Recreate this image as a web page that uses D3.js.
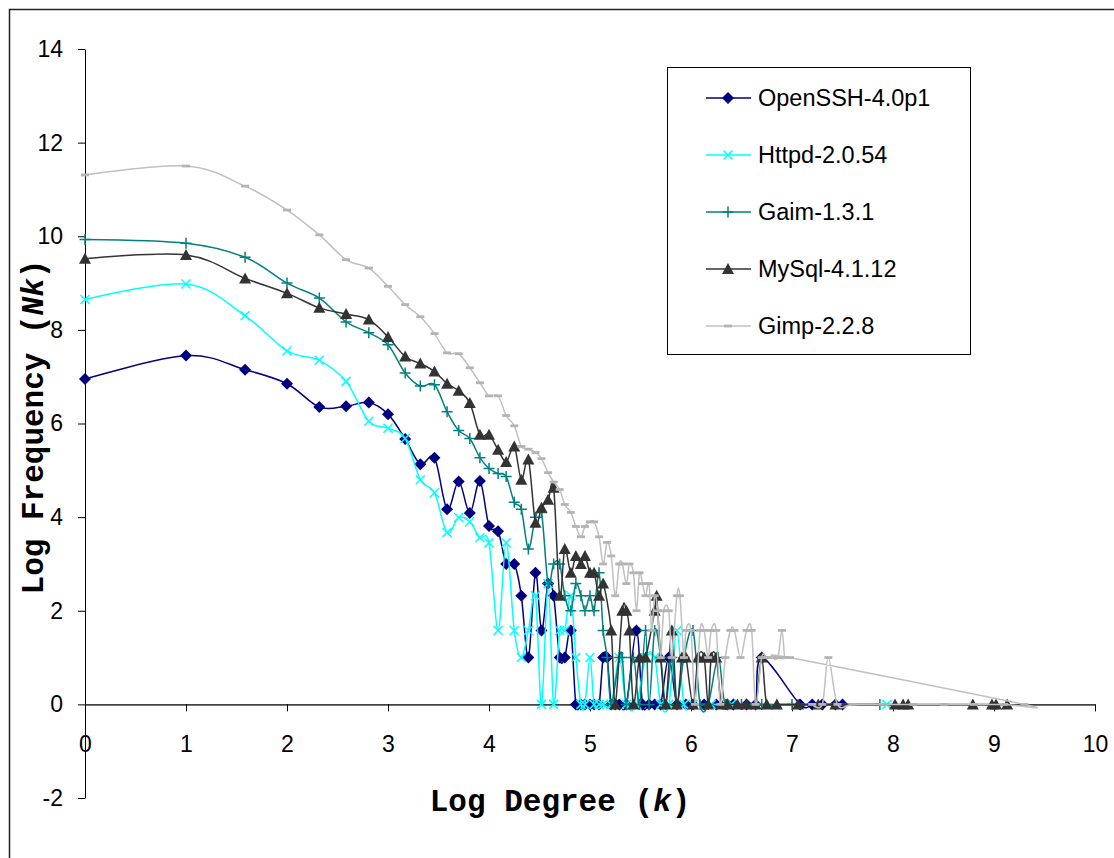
<!DOCTYPE html>
<html>
<head>
<meta charset="utf-8">
<script src="https://cdn.jsdelivr.net/npm/d3@7/dist/d3.min.js"></script>
<style>
  body { margin: 0; background: #fff; }
  svg { display: block; }
</style>
</head>
<body>
<script>
// valeurs : [log degre, log frequence]
const opensshPts = [[0,6.95],[1,7.45],[1.585,7.15],[2,6.85],[2.32,6.35],[2.585,6.37],[2.81,6.45],[3,6.2],[3.17,5.67],[3.32,5.13],[3.46,5.27],[3.585,4.17],[3.7,4.76],[3.81,4.09],[3.91,4.77],[4,3.81],[4.09,3.7],[4.17,3.0],[4.25,3.0],[4.32,2.32],[4.39,1.0],[4.46,2.81],[4.52,1.58],[4.585,2.58],[4.64,2.32],[4.7,1.0],[4.75,1.0],[4.81,1.58],[4.86,0],[4.91,0],[4.95,0],[5.0,0],[5.04,0],[5.09,0],[5.13,1.0],[5.17,1.0],[5.21,0],[5.25,0],[5.29,0],[5.36,0],[5.46,1.58],[5.52,0],[5.585,0],[5.64,0],[5.7,0],[5.78,1.0],[5.86,0],[5.95,0],[6.02,0],[6.13,0],[6.25,0],[6.36,0],[6.42,0],[6.55,0],[6.64,0],[6.7,1.0],[7.08,0],[7.2,0],[7.3,0],[7.43,0],[7.5,0]];

const httpdPts = [[0,8.65],[1,8.98],[1.585,8.3],[2,7.55],[2.32,7.35],[2.585,6.9],[2.81,6.05],[3,5.9],[3.17,5.68],[3.32,4.8],[3.46,4.52],[3.585,3.67],[3.7,3.99],[3.81,3.9],[3.91,3.56],[4,3.45],[4.09,1.58],[4.17,3.45],[4.25,1.58],[4.32,1.0],[4.39,1.58],[4.46,2.32],[4.52,0],[4.585,2.58],[4.64,0],[4.7,1.58],[4.75,1.58],[4.81,2.32],[4.86,1.0],[4.91,0],[4.95,0],[5.0,1.0],[5.04,0],[5.09,0],[5.13,0],[5.21,0],[5.29,1.0],[5.36,0],[5.46,0],[5.55,1.0],[5.64,1.0],[5.7,0],[5.78,0],[5.86,1.58],[5.93,0],[6.02,0],[6.2,0],[6.4,0],[7.94,0]];

const gaimPts = [[0,9.93],[1,9.85],[1.585,9.55],[2,9.0],[2.32,8.68],[2.585,8.17],[2.81,7.94],[3,7.68],[3.17,7.08],[3.32,6.8],[3.46,6.83],[3.585,6.25],[3.7,5.85],[3.81,5.68],[3.91,5.27],[4,5.04],[4.09,4.93],[4.17,4.87],[4.25,4.32],[4.32,4.17],[4.39,3.32],[4.46,4.0],[4.52,4.1],[4.585,2.58],[4.64,3.0],[4.7,3.0],[4.75,2.32],[4.81,2.0],[4.86,2.58],[4.91,2.32],[4.95,2.0],[5.0,2.32],[5.04,2.0],[5.09,2.81],[5.13,1.58],[5.17,1.0],[5.21,0],[5.29,1.0],[5.32,1.0],[5.36,0],[5.43,1.0],[5.49,0],[5.55,1.58],[5.585,0],[5.64,1.58],[5.7,1.0],[5.75,0],[5.81,1.0],[5.86,0],[5.93,1.0],[6.02,1.58],[6.09,0],[6.17,0],[6.27,1.0],[6.34,0],[6.5,0],[6.7,0],[7.0,0],[7.87,0]];

const mysqlPts = [[0,9.52],[1,9.6],[1.585,9.1],[2,8.78],[2.32,8.47],[2.585,8.34],[2.81,8.22],[3,7.85],[3.17,7.43],[3.32,7.28],[3.46,7.11],[3.585,6.85],[3.7,6.7],[3.81,6.44],[3.91,5.76],[4,5.76],[4.09,5.44],[4.17,5.18],[4.25,5.51],[4.32,4.8],[4.39,5.23],[4.46,3.88],[4.52,4.2],[4.585,4.37],[4.64,4.63],[4.7,2.32],[4.75,3.32],[4.81,2.81],[4.86,3.17],[4.91,3.0],[4.95,3.17],[5.0,2.81],[5.04,2.81],[5.09,2.32],[5.13,2.58],[5.21,1.58],[5.25,0],[5.32,2.0],[5.36,2.0],[5.39,1.58],[5.43,0],[5.49,1.0],[5.55,1.0],[5.64,2.0],[5.66,2.32],[5.7,1.0],[5.75,0],[5.81,1.58],[5.86,0],[5.91,1.0],[5.95,1.0],[6.02,0],[6.07,1.0],[6.13,1.0],[6.17,0],[6.2,1.0],[6.25,1.0],[6.3,0],[6.36,0],[6.46,0],[6.55,0],[6.64,0],[6.7,1.0],[6.75,0],[6.85,0],[7.06,0],[7.26,0],[7.43,0],[8.02,0],[8.1,0],[8.15,0],[8.79,0],[8.98,0],[9.02,0],[9.13,0]];

const gimpPts = [[0,11.31],[1,11.5],[1.585,11.07],[2,10.56],[2.32,10.03],[2.585,9.5],[2.81,9.32],[3,8.93],[3.17,8.54],[3.32,8.28],[3.46,7.92],[3.585,7.51],[3.7,7.49],[3.81,7.19],[3.91,6.87],[4,6.59],[4.09,6.59],[4.17,6.17],[4.25,5.95],[4.32,5.51],[4.39,5.45],[4.46,5.38],[4.52,5.25],[4.585,4.95],[4.64,4.75],[4.7,4.59],[4.75,4.27],[4.81,4.1],[4.86,3.8],[4.91,3.58],[4.95,3.8],[5.0,3.9],[5.04,3.9],[5.09,3.58],[5.13,3.0],[5.17,3.46],[5.21,3.17],[5.25,2.32],[5.29,3.0],[5.32,3.0],[5.36,2.58],[5.39,3.0],[5.43,2.81],[5.46,2.0],[5.49,2.81],[5.52,2.58],[5.55,2.32],[5.585,2.58],[5.61,1.58],[5.64,2.32],[5.67,2.0],[5.7,1.0],[5.73,2.0],[5.78,2.0],[5.81,1.0],[5.86,2.32],[5.89,2.32],[5.93,1.0],[5.95,1.58],[6.0,1.58],[6.04,0],[6.09,1.58],[6.13,1.58],[6.17,1.0],[6.2,1.58],[6.25,1.58],[6.29,0],[6.34,1.0],[6.39,1.58],[6.43,1.58],[6.49,1.0],[6.55,1.58],[6.6,1.58],[6.64,0],[6.7,1.0],[6.75,1.0],[6.8,1.0],[6.86,1.0],[6.9,1.58],[6.93,1.0],[6.98,1.0],[9.3,0],[9.1,0],[8.8,0],[8.5,0],[8.2,0],[7.9,0],[7.6,0],[7.45,0],[7.36,1.0],[7.3,0],[7.2,0]];

const seriesNames = ["OpenSSH-4.0p1", "Httpd-2.0.54", "Gaim-1.3.1", "MySql-4.1.12", "Gimp-2.2.8"];
const seriesColors = ["#000080", "#00ffff", "#008080", "#333333", "#c0c0c0"];
const seriesMarkers = ["diamond", "cross", "plus", "triangle", "dash"];
const xTicks = [0, 1, 2, 3, 4, 5, 6, 7, 8, 9, 10];
const yTicks = [-2, 0, 2, 4, 6, 8, 10, 12, 14];

const series = [opensshPts, httpdPts, gaimPts, mysqlPts, gimpPts].map(function(pts, i) {
  return { name: seriesNames[i], color: seriesColors[i], marker: seriesMarkers[i], pts: pts };
});

const W = 1114, H = 858;
const svg = d3.select("body").append("svg")
  .attr("width", W).attr("height", H)
  .style("font-family", "'Liberation Sans', Arial, sans-serif");

// cadre exterieur
svg.append("rect")
  .attr("x", 9.5).attr("y", 9.5)
  .attr("width", 1200).attr("height", 1000)
  .attr("fill", "none").attr("stroke", "#222").attr("stroke-width", 1.5);

const x = d3.scaleLinear().domain([0, 10]).range([85, 1095]);
const y = d3.scaleLinear().domain([-2, 14]).range([798, 49]);

// etiquettes avec tiret simple (pas de signe moins unicode)
const fmt = function(d) { return String(d); };

// axe Y
const gy = svg.append("g")
  .attr("transform", "translate(" + x(0) + ",0)")
  .call(d3.axisLeft(y).tickValues(yTicks).tickSize(7).tickSizeOuter(0).tickPadding(15).tickFormat(fmt));
gy.select(".domain").attr("stroke", "#000");
gy.selectAll(".tick line").attr("stroke", "#000");
gy.selectAll("text").style("font-size", "23px").attr("fill", "#000")
  .style("font-family", "'Liberation Sans', Arial, sans-serif");

// axe X sur y = 0
const gx = svg.append("g")
  .attr("transform", "translate(0," + y(0) + ")")
  .call(d3.axisBottom(x).tickValues(xTicks).tickSize(7).tickSizeOuter(0).tickFormat(fmt));
gx.select(".domain").attr("stroke", "#444").attr("stroke-width", 1.8);
gx.selectAll(".tick line").attr("stroke", "#000");
gx.selectAll("text").style("font-size", "23px").attr("fill", "#000")
  .style("font-family", "'Liberation Sans', Arial, sans-serif")
  .attr("y", 48).attr("dy", 0);

// symboles
function markerPath(type) {
  if (type == "diamond") return "M0,-6L6,0L0,6L-6,0Z";
  if (type == "triangle") return "M0,-6L6,5L-6,5Z";
  if (type == "cross") return "M-4.5,-4.5L4.5,4.5M-4.5,4.5L4.5,-4.5";
  if (type == "plus") return "M-5.5,0H5.5M0,-5.5V5.5";
  return "M-4,-1.4H4V1.4H-4Z";
}
function drawMarker(sel, s) {
  const filled = (s.marker == "diamond" || s.marker == "triangle" || s.marker == "dash");
  sel.attr("d", markerPath(s.marker))
    .attr("fill", filled ? (s.marker == "dash" ? "#b4b4b4" : s.color) : "none")
    .attr("stroke", filled ? "none" : s.color)
    .attr("stroke-width", 1.5);
}

const line = d3.line()
  .x(function(d) { return x(d[0]); })
  .y(function(d) { return y(d[1]); })
  .curve(d3.curveCardinal.tension(0));

series.forEach(function(s) {
  const g = svg.append("g");
  g.append("path")
    .attr("d", line(s.pts))
    .attr("fill", "none")
    .attr("stroke", s.color)
    .attr("stroke-width", 1.5);
  g.selectAll("path.mk").data(s.pts).enter().append("path")
    .attr("class", "mk")
    .attr("transform", function(d) { return "translate(" + x(d[0]) + "," + y(d[1]) + ")"; })
    .call(drawMarker, s);
});

// legende
const leg = svg.append("g");
leg.append("rect")
  .attr("x", 667.5).attr("y", 67.5).attr("width", 303).attr("height", 287)
  .attr("fill", "#fff").attr("stroke", "#000").attr("stroke-width", 1);
const legY = d3.scalePoint().domain(seriesNames).range([98, 326]);
series.forEach(function(s) {
  const ly = legY(s.name);
  leg.append("line")
    .attr("x1", 706).attr("x2", 751).attr("y1", ly).attr("y2", ly)
    .attr("stroke", s.color).attr("stroke-width", 1.5);
  leg.append("path")
    .attr("transform", "translate(728," + ly + ")")
    .call(drawMarker, s);
  leg.append("text")
    .attr("x", 758).attr("y", ly + 8)
    .style("font-size", "23.5px")
    .text(s.name);
});

// titres des axes
const mono = "'Liberation Mono', 'Courier New', monospace";
const xt = svg.append("text")
  .attr("x", 560).attr("y", 811)
  .attr("text-anchor", "middle")
  .style("font-family", mono).style("font-weight", "bold").style("font-size", "31px");
xt.append("tspan").text("Log Degree (");
xt.append("tspan").style("font-style", "italic").text("k");
xt.append("tspan").text(")");

const yt = svg.append("text")
  .attr("transform", "translate(43,427) rotate(-90)")
  .attr("text-anchor", "middle")
  .style("font-family", mono).style("font-weight", "bold").style("font-size", "31px");
yt.append("tspan").text("Log Frequency (");
yt.append("tspan").style("font-style", "italic").text("Nk");
yt.append("tspan").text(")");
</script>
</body>
</html>
